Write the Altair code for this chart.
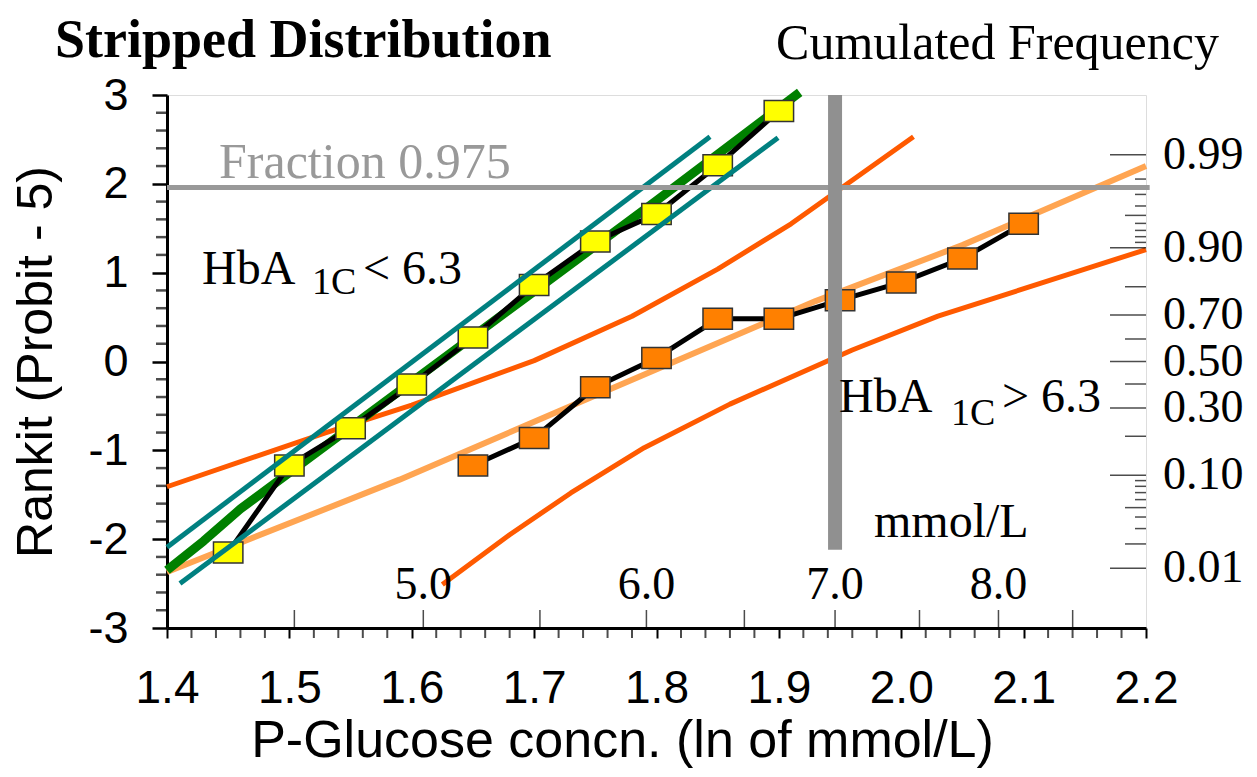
import math
from statistics import NormalDist
import pandas as pd
import altair as alt

# ---------------- data ----------------
yellow_x = [1.45, 1.50, 1.55, 1.60, 1.65, 1.70, 1.75, 1.80, 1.85, 1.90]
yellow_y = [-2.15, -1.17, -0.75, -0.26, 0.27, 0.86, 1.35, 1.66, 2.21, 2.82]
orange_x = [1.65, 1.70, 1.75, 1.80, 1.85, 1.90, 1.95, 2.00, 2.05, 2.10]
orange_y = [-1.17, -0.86, -0.29, 0.04, 0.48, 0.48, 0.69, 0.89, 1.16, 1.55]

green_x = [1.40, 1.43, 1.46, 1.50, 1.60, 1.70, 1.80, 1.917]
green_y = [-2.35, -2.02, -1.66, -1.25, -0.23, 0.79, 1.81, 3.03]
teal_up_x = [1.40, 1.8437]
teal_up_y = [-2.09, 2.53]
teal_lo_x = [1.4106, 1.8993]
teal_lo_y = [-2.50, 2.52]

light_x = [1.40, 1.46, 1.59, 1.72, 1.93, 2.05, 2.20]
light_y = [-2.37, -2.04, -1.33, -0.56, 0.68, 1.31, 2.20]
red_up_x = [1.40, 1.53, 1.60, 1.70, 1.78, 1.85, 1.91, 2.01]
red_up_y = [-1.41, -0.80, -0.49, 0.01, 0.51, 1.04, 1.55, 2.53]
red_lo_x = [1.625, 1.68, 1.73, 1.79, 1.86, 1.96, 2.03, 2.20]
red_lo_y = [-2.51, -1.95, -1.48, -0.97, -0.48, 0.13, 0.51, 1.26]

fraction_rankit = 1.96          # fraction 0.975
glucose_cut = 7.0               # mmol/L
gray_bottom = -2.12

mmol_ticks = [4.5, 5.0, 5.5, 6.0, 6.5, 7.0, 7.5, 8.0, 8.5]
mmol_labels = [5.0, 6.0, 7.0, 8.0]

p_long = [0.01, 0.10, 0.30, 0.50, 0.70, 0.90, 0.99]
p_mid = [0.02, 0.05, 0.20, 0.40, 0.60, 0.80, 0.95]
p_short = [0.03, 0.04, 0.06, 0.07, 0.08, 0.09, 0.91, 0.92, 0.93, 0.94, 0.96, 0.97, 0.98]

x_major = [1.4, 1.5, 1.6, 1.7, 1.8, 1.9, 2.0, 2.1, 2.2]
y_major = [-3, -2, -1, 0, 1, 2, 3]
x_minor = [round(1.40 + 0.02 * i, 2) for i in range(41) if i % 5 != 0]
y_minor = [round(-3 + 0.2 * i, 1) for i in range(31) if i % 5 != 0]

# ---------------- helpers ----------------
nd = NormalDist()
SERIF = "Liberation Serif, Times New Roman, serif"
SANS = "Liberation Sans, Arial, sans-serif"

X = alt.X("x:Q", scale=alt.Scale(domain=[1.4, 2.2], nice=False, zero=False),
          axis=alt.Axis(values=x_major, labelExpr="format(datum.value, '.1f')",
                        tickSize=10, tickWidth=2, tickColor="black",
                        domainColor="black", domainWidth=3,
                        labelFont=SANS, labelFontSize=46, labelPadding=28, labelColor="black",
                        labelOverlap=False, labelFlush=False,
                        title="P-Glucose concn. (ln of mmol/L)",
                        titleFont=SANS, titleFontSize=52, titleFontWeight="normal",
                        titleColor="black", titlePadding=4, titleX=455, grid=False))
Y = alt.Y("y:Q", scale=alt.Scale(domain=[-3, 3], nice=False, zero=False),
          axis=alt.Axis(values=y_major, labelExpr="'' + datum.value",
                        tickSize=15, tickWidth=2.5, tickColor="black",
                        domainColor="black", domainWidth=3,
                        labelFont=SANS, labelFontSize=45, labelPadding=24, labelColor="black",
                        labelOverlap=False, labelFlush=False,
                        title="Rankit (Probit - 5)",
                        titleFont=SANS, titleFontSize=50, titleFontWeight="normal",
                        titleColor="black", titlePadding=26, grid=False))


def df(xs, ys):
    return pd.DataFrame({"x": xs, "y": ys})


def line(xs, ys, color, width):
    return alt.Chart(df(xs, ys)).mark_line(color=color, strokeWidth=width,
                                           strokeCap="butt", strokeJoin="round").encode(x=X, y=Y)


rect_shape = "M-1.4,-1L1.4,-1L1.4,1L-1.4,1Z"


def boxes(xs, ys, fill):
    return alt.Chart(df(xs, ys)).mark_point(shape=rect_shape, size=441, filled=True,
                                            fill=fill, stroke="#333333", strokeWidth=1.5,
                                            opacity=1).encode(x=X, y=Y)


def label(x, y, text, size, color="black", weight="normal", font=SERIF):
    return alt.Chart().mark_text(text=text, align="left", baseline="alphabetic",
                                 font=font, fontSize=size, fontWeight=weight,
                                 color=color).encode(x=alt.datum(x), y=alt.datum(y))


layers = []
# minor ticks of the left and bottom axes
layers.append(alt.Chart(df(x_minor, [-3.0] * len(x_minor))).mark_tick(
    orient="vertical", size=10, thickness=2, color="black", yOffset=5).encode(x=X, y=Y))
layers.append(alt.Chart(df([1.4] * len(y_minor), y_minor)).mark_tick(
    orient="horizontal", size=11, thickness=2.5, color="black", xOffset=-5.5).encode(x=X, y=Y))

# fitted / reference lines
layers.append(line(light_x, light_y, "#FFA552", 6))
layers.append(line(red_up_x, red_up_y, "#FF5A00", 5))
layers.append(line(red_lo_x, red_lo_y, "#FF5A00", 5))
layers.append(line(green_x, green_y, "#008000", 9))
layers.append(line(yellow_x, yellow_y, "black", 5))
layers.append(line(orange_x, orange_y, "black", 5))
layers.append(boxes(yellow_x, yellow_y, "#FFFF00"))
layers.append(boxes(orange_x, orange_y, "#FF8000"))
layers.append(line(teal_up_x, teal_up_y, "#008080", 5))
layers.append(line(teal_lo_x, teal_lo_y, "#008080", 5))

# gray reference lines
layers.append(alt.Chart().mark_rule(color="#999999", strokeWidth=5).encode(
    x=alt.datum(1.4), x2=alt.datum(2.203), y=alt.datum(fraction_rankit)))
layers.append(alt.Chart().mark_rule(color="#909090", strokeWidth=14).encode(
    x=alt.datum(math.log(glucose_cut)), y=alt.datum(3.0), y2=alt.datum(gray_bottom)))

# mmol/L inner ticks and labels
mm = pd.DataFrame({"x": [math.log(v) for v in mmol_ticks], "y": [-3.0] * len(mmol_ticks)})
layers.append(alt.Chart(mm).mark_tick(orient="vertical", size=18, thickness=1.5, color="black",
                                      yOffset=-9).encode(x=X, y=Y))
ml = pd.DataFrame({"x": [math.log(v) for v in mmol_labels], "y": [-3.0] * len(mmol_labels),
                   "t": [f"{v:.1f}" for v in mmol_labels]})
layers.append(alt.Chart(ml).mark_text(align="center", baseline="alphabetic", font=SERIF,
                                      fontSize=46, color="black", dy=-29).encode(x=X, y=Y, text="t:N"))

# right probability axis
for ps, ln in ((p_long, 36), (p_mid, 21), (p_short, 11)):
    pdf = pd.DataFrame({"x": [2.2] * len(ps), "y": [nd.inv_cdf(p) for p in ps]})
    layers.append(alt.Chart(pdf).mark_tick(orient="horizontal", size=ln, thickness=1.5,
                                           color="black", xOffset=-ln / 2).encode(x=X, y=Y))
pl = pd.DataFrame({"x": [2.2] * len(p_long), "y": [nd.inv_cdf(p) for p in p_long],
                   "t": [f"{p:.2f}" for p in p_long]})
layers.append(alt.Chart(pl).mark_text(align="left", baseline="middle", font=SERIF, fontSize=46,
                                      color="black", dx=17).encode(x=X, y=Y, text="t:N"))

# annotations
layers.append(label(1.3085, 3.423, "Stripped Distribution", 54, weight="bold"))
layers.append(label(1.8977, 3.40, "Cumulated Frequency", 50))
layers.append(label(1.4425, 2.07, "Fraction 0.975", 50, color="#999999"))
layers.append(label(1.4286, 0.867, "HbA", 48))
layers.append(label(1.5185, 0.755, "1C", 38))
layers.append(label(1.5602, 0.867, "< 6.3", 48))
layers.append(label(1.9491, -0.563, "HbA", 48))
layers.append(label(2.0407, -0.72, "1C", 38))
layers.append(label(2.0823, -0.563, "> 6.3", 48))
layers.append(label(1.9777, -1.97, "mmol/L", 48))

chart = alt.layer(*layers).properties(
    width=979, height=533,
    autosize=alt.AutoSizeParams(type="none"),
    padding={"left": 159, "top": 87, "right": 103, "bottom": 141},
).configure_view(stroke="black", strokeWidth=2.5).configure(background="white")

chart.save("out.html", embed_options={"renderer": "svg", "actions": False})
